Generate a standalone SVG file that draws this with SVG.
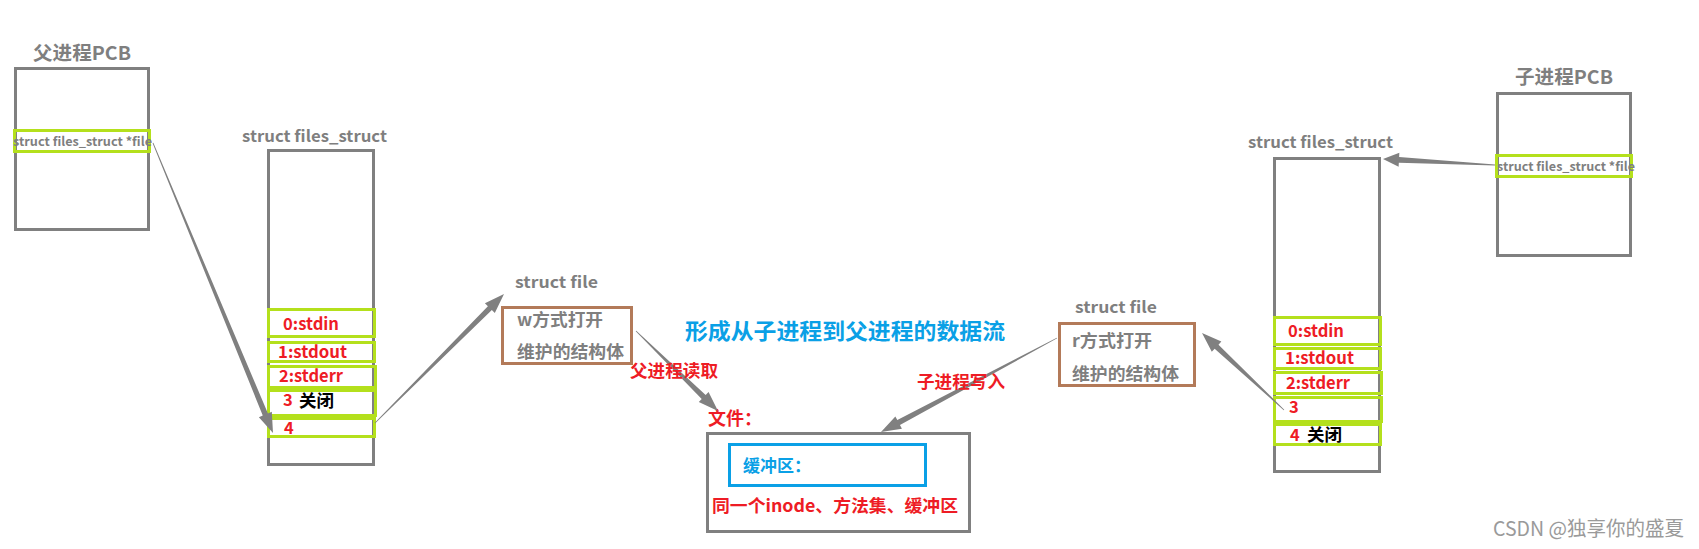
<svg xmlns="http://www.w3.org/2000/svg" width="1699" height="549" viewBox="0 0 1699 549">
<style>
.box{fill:none;stroke:#808080;stroke-width:3}
.grn{fill:none;stroke:#b4e01c;stroke-width:3}
.brn{fill:none;stroke:#b37a59;stroke-width:3}
.blu{fill:none;stroke:#0aa0e6;stroke-width:3}
text{font-family:"Noto Sans CJK SC","Microsoft YaHei",sans-serif;font-weight:bold}
.g{fill:#7f7f7f}
.r{fill:#ee1c25}
.k{fill:#000}
.b{fill:#0aa0e6}
.arr{fill:#808080;stroke:none}
</style>
<rect width="1699" height="549" fill="#fff"/>

<g id="parent-pcb">
<text class="g" x="33" y="60" font-size="19" textLength="98" lengthAdjust="spacingAndGlyphs">父进程PCB</text>
<rect class="box" x="15.5" y="68.5" width="133" height="161"/>
<rect class="grn" x="14.5" y="130.5" width="135" height="21"/>
<text class="g" x="13" y="146" font-size="12.5" textLength="139" lengthAdjust="spacingAndGlyphs">struct files_struct *file</text>
</g>

<g id="left-files-struct">
<text class="g" x="242" y="142" font-size="16" textLength="145" lengthAdjust="spacingAndGlyphs">struct files_struct</text>
<rect class="box" x="268.5" y="150.5" width="105" height="314"/>
<rect class="grn" x="268.5" y="309.5" width="106" height="27"/>
<rect class="grn" x="268.5" y="342.5" width="106" height="19"/>
<rect class="grn" x="268.5" y="366.5" width="107" height="21"/>
<rect class="grn" x="268.5" y="390.5" width="107" height="25"/>
<rect class="grn" x="268.5" y="418.5" width="106" height="18"/>
<text class="r" x="283" y="330" font-size="16.5" textLength="56" lengthAdjust="spacingAndGlyphs">0:stdin</text>
<text class="r" x="278" y="358" font-size="16.5" textLength="69" lengthAdjust="spacingAndGlyphs">1:stdout</text>
<text class="r" x="279" y="382" font-size="16.5" textLength="64" lengthAdjust="spacingAndGlyphs">2:stderr</text>
<text class="r" x="283" y="406" font-size="16.5">3</text>
<text class="k" x="299" y="407" font-size="17" textLength="35" lengthAdjust="spacingAndGlyphs">关闭</text>
<text class="r" x="284" y="434" font-size="16.5">4</text>
</g>

<g id="struct-file-w">
<text class="g" x="515" y="288" font-size="16" textLength="83" lengthAdjust="spacingAndGlyphs">struct file</text>
<rect class="brn" x="502.5" y="307.5" width="129" height="56"/>
<text class="g" x="517" y="326" font-size="17" textLength="86" lengthAdjust="spacingAndGlyphs">w方式打开</text>
<text class="g" x="517" y="358" font-size="17" textLength="107" lengthAdjust="spacingAndGlyphs">维护的结构体</text>
</g>

<g id="title">
<text class="b" x="685" y="339" font-size="22" textLength="320" lengthAdjust="spacingAndGlyphs">形成从子进程到父进程的数据流</text>
</g>

<g id="file">
<text class="r" x="708" y="425" font-size="18">文件：</text>
<rect class="box" x="707.5" y="433.5" width="262" height="98"/>
<rect class="blu" x="729.5" y="444.5" width="196" height="41"/>
<text class="b" x="743" y="472" font-size="17">缓冲区：</text>
<text class="r" x="712" y="512" font-size="17.5" textLength="246" lengthAdjust="spacingAndGlyphs">同一个inode、方法集、缓冲区</text>
</g>

<g id="struct-file-r">
<text class="g" x="1075" y="313" font-size="16" textLength="82" lengthAdjust="spacingAndGlyphs">struct file</text>
<rect class="brn" x="1059.5" y="323.5" width="135" height="62"/>
<text class="g" x="1072" y="347" font-size="17" textLength="80" lengthAdjust="spacingAndGlyphs">r方式打开</text>
<text class="g" x="1072" y="380" font-size="17" textLength="107" lengthAdjust="spacingAndGlyphs">维护的结构体</text>
</g>

<g id="right-files-struct">
<text class="g" x="1248" y="148" font-size="16" textLength="145" lengthAdjust="spacingAndGlyphs">struct files_struct</text>
<rect class="box" x="1274.5" y="158.5" width="105" height="313"/>
<rect class="grn" x="1274.5" y="317.5" width="106" height="27"/>
<rect class="grn" x="1274.5" y="348.5" width="106" height="20"/>
<rect class="grn" x="1274.5" y="372.5" width="107" height="21"/>
<rect class="grn" x="1274.5" y="397.5" width="107" height="24"/>
<rect class="grn" x="1274.5" y="424.5" width="106" height="20"/>
<text class="r" x="1288" y="337" font-size="16.5" textLength="56" lengthAdjust="spacingAndGlyphs">0:stdin</text>
<text class="r" x="1285" y="364" font-size="16.5" textLength="69" lengthAdjust="spacingAndGlyphs">1:stdout</text>
<text class="r" x="1286" y="389" font-size="16.5" textLength="64" lengthAdjust="spacingAndGlyphs">2:stderr</text>
<text class="r" x="1289" y="413" font-size="16.5">3</text>
<text class="r" x="1290" y="441" font-size="16.5">4</text>
<text class="k" x="1307" y="441" font-size="17" textLength="35" lengthAdjust="spacingAndGlyphs">关闭</text>
</g>

<g id="child-pcb">
<text class="g" x="1515" y="84" font-size="19" textLength="98" lengthAdjust="spacingAndGlyphs">子进程PCB</text>
<rect class="box" x="1497.5" y="93.5" width="133" height="162"/>
<rect class="grn" x="1496.5" y="155.5" width="135" height="21"/>
<text class="g" x="1497" y="171" font-size="12.5" textLength="138" lengthAdjust="spacingAndGlyphs">struct files_struct *file</text>
</g>

<g id="connectors">
<polygon class="arr" points="152.63,143.15 262.76,415.59 258.88,417.20 273,433 271.82,411.84 267.94,413.45 153.37,142.85"/>
<polygon class="arr" points="375.28,423.28 491.84,310.12 494.81,313.09 504,294 484.91,303.19 487.88,306.16 374.72,422.72"/>
<polygon class="arr" points="635.72,331.29 701.73,399.03 698.79,402.04 718,411 708.57,392.02 705.64,395.03 636.28,330.71"/>
<polygon class="arr" points="1056.81,337.65 897.32,420.11 895.34,416.41 881,432 901.94,428.75 899.96,425.05 1057.19,338.35"/>
<polygon class="arr" points="1284.27,409.71 1218.50,344.65 1221.37,341.59 1202,333 1211.79,351.79 1214.66,348.73 1283.73,410.29"/>
<polygon class="arr" points="1495.03,164.50 1399.13,157.06 1399.35,152.87 1383,159 1398.61,166.85 1398.83,162.66 1494.97,165.50"/>
</g>

<g id="labels">
<text class="r" x="630" y="377" font-size="17.5" textLength="88" lengthAdjust="spacingAndGlyphs">父进程读取</text>
<text class="r" x="917" y="388" font-size="17.5" textLength="88" lengthAdjust="spacingAndGlyphs">子进程写入</text>
</g>

<text x="1493" y="536" font-size="20" style="font-weight:normal" fill="#9a9a9a" textLength="191" lengthAdjust="spacingAndGlyphs">CSDN @独享你的盛夏</text>
</svg>
